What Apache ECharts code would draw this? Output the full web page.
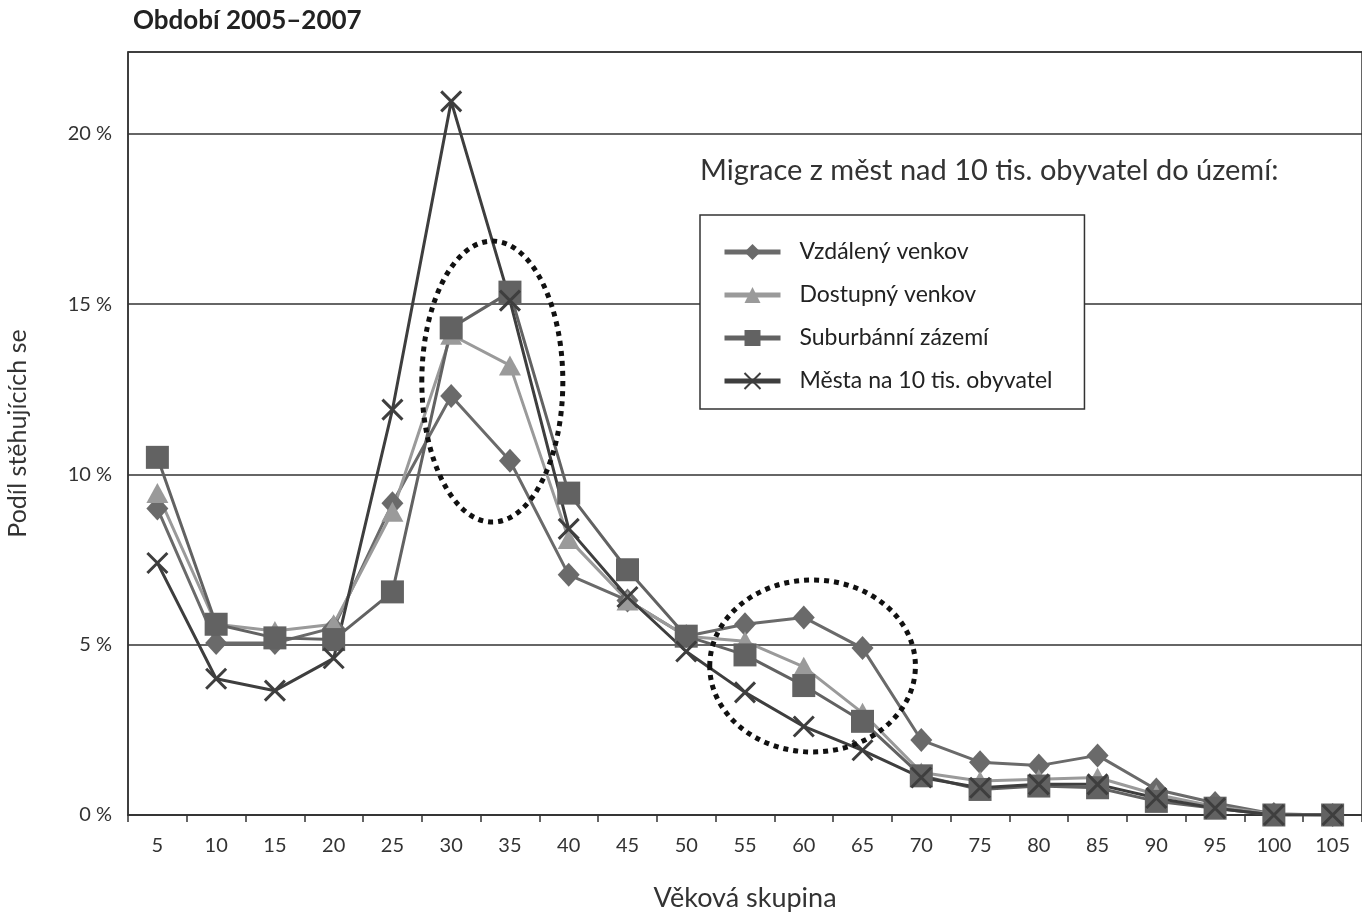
<!DOCTYPE html>
<html>
<head>
<meta charset="utf-8">
<script src="https://cdn.jsdelivr.net/npm/echarts@6/dist/echarts.min.js"></script>
<style>
  html, body { margin: 0; padding: 0; background: #fff; }
  #chart { width: 1362px; height: 913px; }
</style>
</head>
<body>
<div id="chart"></div>
<script>
// věkové skupiny
var vekoveSkupiny = ['5', '10', '15', '20', '25', '30', '35', '40', '45', '50', '55',
  '60', '65', '70', '75', '80', '85', '90', '95', '100', '105'];

// podíl stěhujících se (%)
var vzdalenyVenkov = [9.0, 5.05, 5.05, 5.5, 9.15, 12.3, 10.4, 7.05, 6.3, 5.25, 5.6,
  5.8, 4.9, 2.2, 1.55, 1.45, 1.75, 0.75, 0.35, 0.03, 0];
var dostupnyVenkov = [9.45, 5.6, 5.4, 5.6, 8.9, 14.1, 13.2, 8.1, 6.3, 5.25, 5.1,
  4.35, 3.0, 1.25, 1.0, 1.05, 1.1, 0.6, 0.25, 0.03, 0];
var suburbanniZazemi = [10.5, 5.6, 5.2, 5.15, 6.55, 14.3, 15.35, 9.45, 7.2, 5.25, 4.7,
  3.8, 2.75, 1.15, 0.75, 0.85, 0.8, 0.4, 0.2, 0, 0];
var mestaNa10tis = [7.4, 4.0, 3.65, 4.6, 11.9, 20.95, 15.1, 8.4, 6.4, 4.8, 3.6,
  2.6, 1.9, 1.1, 0.8, 0.9, 0.9, 0.5, 0.2, 0, 0];

var font = 'Lato';
var krizek = 'path://M0,0 L10,10 M10,0 L0,10';

var chartDom = document.getElementById('chart');
var myChart = echarts.init(chartDom);

function rada(name, data, symbol, size, color) {
  return {
    name: name,
    type: 'line',
    data: data,
    symbol: symbol,
    symbolSize: size,
    showAllSymbol: true,
    lineStyle: { color: color, width: 3 },
    itemStyle: symbol === krizek
      ? { color: color, borderColor: color, borderWidth: 3 }
      : { color: color },
    emphasis: { disabled: true },
    animation: false
  };
}

var option = {
  backgroundColor: '#fff',
  animation: false,
  textStyle: { fontFamily: font },
  title: {
    text: 'Období 2005–2007',
    left: 128,
    top: 3,
    textStyle: { fontFamily: font, fontSize: 26, fontWeight: 'bold', color: '#222' }
  },
  graphic: [{
    type: 'text',
    left: 700,
    top: 156,
    style: {
      text: 'Migrace z měst nad 10 tis. obyvatel do území:',
      font: '29px ' + font,
      fill: '#333'
    }
  }],
  legend: {
    orient: 'vertical',
    left: 700,
    top: 215,
    padding: [25, 32, 16, 22],
    itemGap: 19,
    itemWidth: 56,
    itemHeight: 20,
    borderColor: '#333',
    borderWidth: 1.5,
    backgroundColor: '#fff',
    lineStyle: { width: 5 },
    textStyle: { fontFamily: font, fontSize: 23, lineHeight: 24, color: '#222', padding: [0, 0, 0, 14] },
    data: ['Vzdálený venkov', 'Dostupný venkov', 'Suburbánní zázemí', 'Města na 10 tis. obyvatel']
  },
  grid: {
    left: 128,
    right: 0,
    top: 52,
    bottom: 98,
    outerBoundsMode: 'none',
    containLabel: false,
    show: true,
    borderColor: '#333',
    borderWidth: 1.5
  },
  xAxis: {
    type: 'category',
    data: vekoveSkupiny,
    boundaryGap: true,
    name: 'Věková skupina',
    nameLocation: 'middle',
    nameGap: 70,
    nameTextStyle: { fontFamily: font, fontSize: 27, color: '#333' },
    axisLine: { lineStyle: { color: '#333', width: 1.5 } },
    axisTick: { show: true, alignWithLabel: false, length: 7, lineStyle: { color: '#333', width: 1.5 } },
    axisLabel: { fontFamily: font, fontSize: 20, color: '#333', margin: 21 }
  },
  yAxis: {
    type: 'value',
    min: 0,
    max: 22.4,
    interval: 5,
    name: 'Podíl stěhujících se',
    nameLocation: 'middle',
    nameGap: 98,
    nameTextStyle: { fontFamily: font, fontSize: 25, color: '#333' },
    axisLine: { show: true, lineStyle: { color: '#333', width: 1.5 } },
    axisTick: { show: false },
    axisLabel: {
      fontFamily: font, fontSize: 20, color: '#333', margin: 16,
      showMaxLabel: false,
      formatter: function (v) { return v % 5 === 0 ? v + ' %' : ''; }
    },
    splitLine: { lineStyle: { color: '#333', width: 1.5 } }
  },
  series: [
    rada('Vzdálený venkov', vzdalenyVenkov, 'diamond', [22, 24], '#6a6a6a'),
    rada('Dostupný venkov', dostupnyVenkov, 'triangle', [22, 20], '#9a9a9a'),
    rada('Suburbánní zázemí', suburbanniZazemi, 'rect', 23, '#626262'),
    rada('Města na 10 tis. obyvatel', mestaNa10tis, krizek, 20, '#3e3e3e')
  ]
};

myChart.setOption(option);

// tečkované elipsy: střed (index kategorie), poloměr v kategoriích, horní a dolní mez v %
var elipsy = [
  { cx: 5.7, rCat: 1.2, top: 16.85, bottom: 8.6 },
  { cx: 11.15, rCat: 1.75, top: 6.9, bottom: 1.85 }
];

var p0 = myChart.convertToPixel({ gridIndex: 0 }, [0, 0]);
var p1 = myChart.convertToPixel({ gridIndex: 0 }, [1, 0]);
var krok = p1[0] - p0[0];

var g = elipsy.map(function (e) {
  var yTop = myChart.convertToPixel({ yAxisIndex: 0 }, e.top);
  var yBottom = myChart.convertToPixel({ yAxisIndex: 0 }, e.bottom);
  return {
    type: 'ellipse',
    z: 100,
    shape: {
      cx: p0[0] + e.cx * krok,
      cy: (yTop + yBottom) / 2,
      rx: e.rCat * krok,
      ry: (yBottom - yTop) / 2
    },
    style: { fill: 'none', stroke: '#111', lineWidth: 5, lineDash: [5, 5] }
  };
});

myChart.setOption({ graphic: option.graphic.concat(g) });
</script>
</body>
</html>
